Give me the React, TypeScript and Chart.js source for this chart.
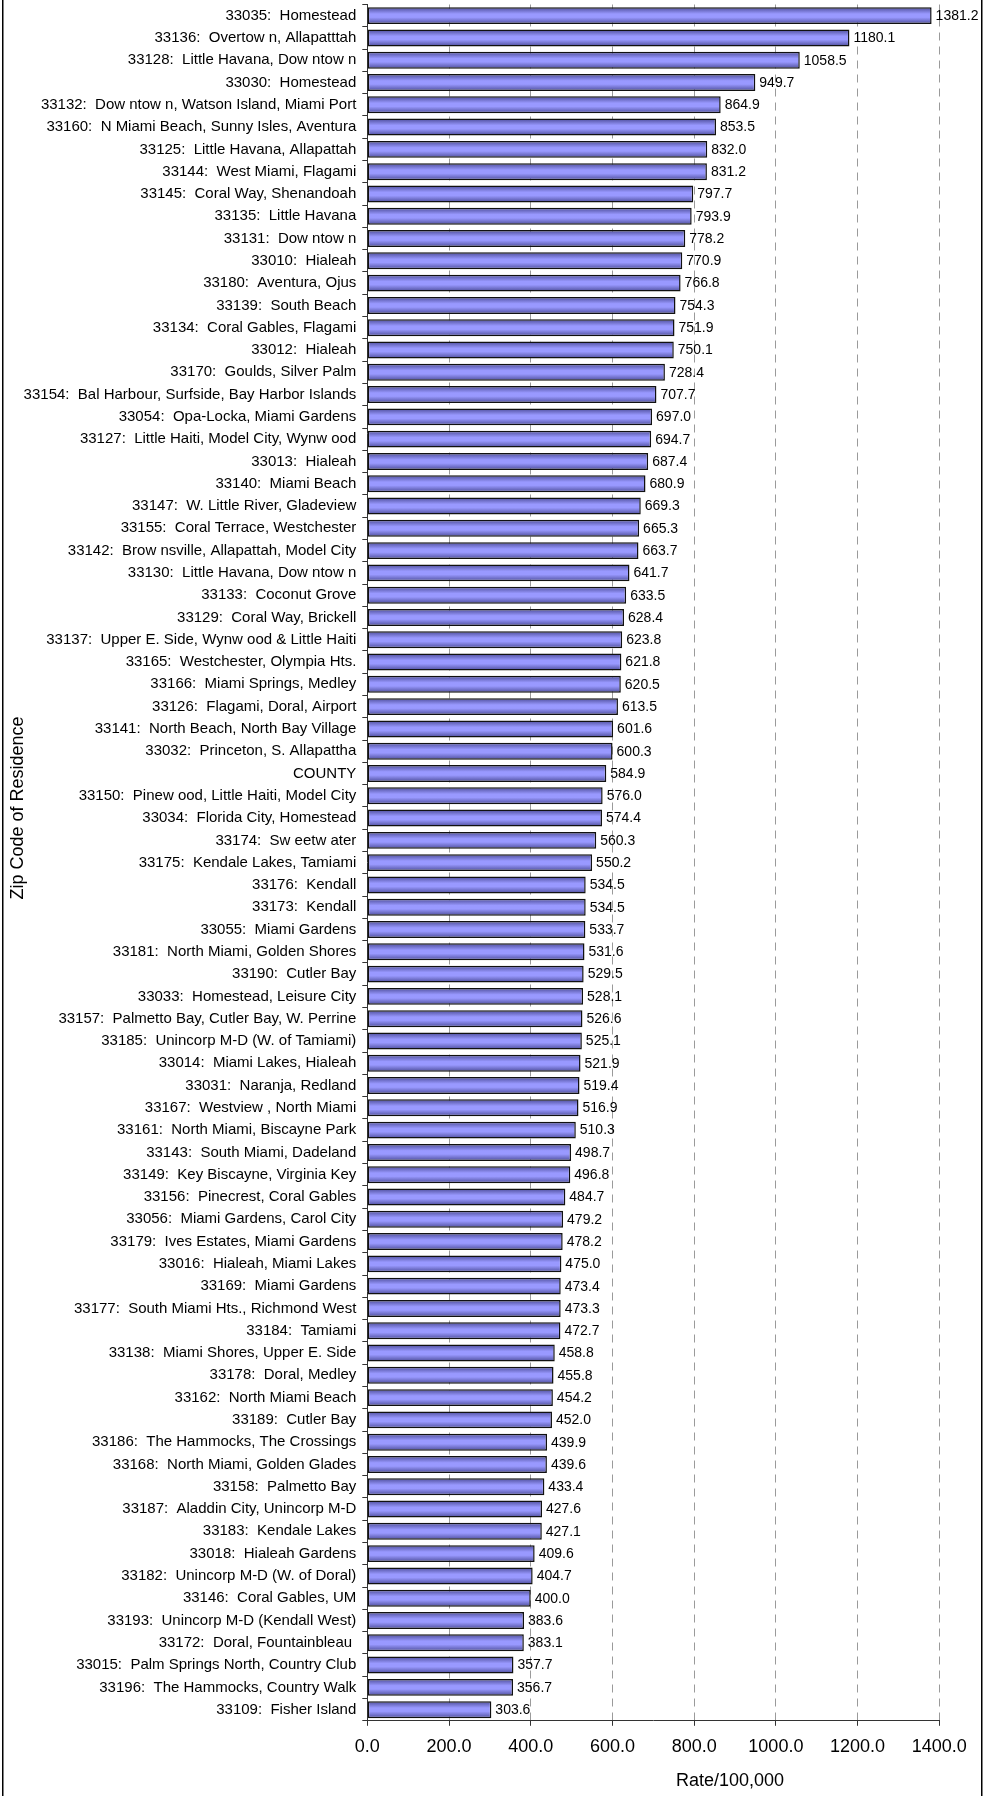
import React, { useEffect, useRef } from 'react';
import { Chart, registerables } from 'chart.js';

Chart.register(...registerables);

const zipLabels: string[] = [
  '33035:  Homestead',
  '33136:  Overtow n, Allapatttah',
  '33128:  Little Havana, Dow ntow n',
  '33030:  Homestead',
  '33132:  Dow ntow n, Watson Island, Miami Port',
  '33160:  N Miami Beach, Sunny Isles, Aventura',
  '33125:  Little Havana, Allapattah',
  '33144:  West Miami, Flagami',
  '33145:  Coral Way, Shenandoah',
  '33135:  Little Havana',
  '33131:  Dow ntow n',
  '33010:  Hialeah',
  '33180:  Aventura, Ojus',
  '33139:  South Beach',
  '33134:  Coral Gables, Flagami',
  '33012:  Hialeah',
  '33170:  Goulds, Silver Palm',
  '33154:  Bal Harbour, Surfside, Bay Harbor Islands',
  '33054:  Opa-Locka, Miami Gardens',
  '33127:  Little Haiti, Model City, Wynw ood',
  '33013:  Hialeah',
  '33140:  Miami Beach',
  '33147:  W. Little River, Gladeview',
  '33155:  Coral Terrace, Westchester',
  '33142:  Brow nsville, Allapattah, Model City',
  '33130:  Little Havana, Dow ntow n',
  '33133:  Coconut Grove',
  '33129:  Coral Way, Brickell',
  '33137:  Upper E. Side, Wynw ood & Little Haiti',
  '33165:  Westchester, Olympia Hts.',
  '33166:  Miami Springs, Medley',
  '33126:  Flagami, Doral, Airport',
  '33141:  North Beach, North Bay Village',
  '33032:  Princeton, S. Allapattha',
  'COUNTY',
  '33150:  Pinew ood, Little Haiti, Model City',
  '33034:  Florida City, Homestead',
  '33174:  Sw eetw ater',
  '33175:  Kendale Lakes, Tamiami',
  '33176:  Kendall',
  '33173:  Kendall',
  '33055:  Miami Gardens',
  '33181:  North Miami, Golden Shores',
  '33190:  Cutler Bay',
  '33033:  Homestead, Leisure City',
  '33157:  Palmetto Bay, Cutler Bay, W. Perrine',
  '33185:  Unincorp M-D (W. of Tamiami)',
  '33014:  Miami Lakes, Hialeah',
  '33031:  Naranja, Redland',
  '33167:  Westview , North Miami',
  '33161:  North Miami, Biscayne Park',
  '33143:  South Miami, Dadeland',
  '33149:  Key Biscayne, Virginia Key',
  '33156:  Pinecrest, Coral Gables',
  '33056:  Miami Gardens, Carol City',
  '33179:  Ives Estates, Miami Gardens',
  '33016:  Hialeah, Miami Lakes',
  '33169:  Miami Gardens',
  '33177:  South Miami Hts., Richmond West',
  '33184:  Tamiami',
  '33138:  Miami Shores, Upper E. Side',
  '33178:  Doral, Medley',
  '33162:  North Miami Beach',
  '33189:  Cutler Bay',
  '33186:  The Hammocks, The Crossings',
  '33168:  North Miami, Golden Glades',
  '33158:  Palmetto Bay',
  '33187:  Aladdin City, Unincorp M-D',
  '33183:  Kendale Lakes',
  '33018:  Hialeah Gardens',
  '33182:  Unincorp M-D (W. of Doral)',
  '33146:  Coral Gables, UM',
  '33193:  Unincorp M-D (Kendall West)',
  '33172:  Doral, Fountainbleau ',
  '33015:  Palm Springs North, Country Club',
  '33196:  The Hammocks, Country Walk',
  '33109:  Fisher Island',
];

const rates: number[] = [
  1381.2, 1180.1, 1058.5, 949.7, 864.9, 853.5, 832.0, 831.2, 797.7, 793.9,
  778.2, 770.9, 766.8, 754.3, 751.9, 750.1, 728.4, 707.7, 697.0, 694.7,
  687.4, 680.9, 669.3, 665.3, 663.7, 641.7, 633.5, 628.4, 623.8, 621.8,
  620.5, 613.5, 601.6, 600.3, 584.9, 576.0, 574.4, 560.3, 550.2, 534.5,
  534.5, 533.7, 531.6, 529.5, 528.1, 526.6, 525.1, 521.9, 519.4, 516.9,
  510.3, 498.7, 496.8, 484.7, 479.2, 478.2, 475.0, 473.4, 473.3, 472.7,
  458.8, 455.8, 454.2, 452.0, 439.9, 439.6, 433.4, 427.6, 427.1, 409.6,
  404.7, 400.0, 383.6, 383.1, 357.7, 356.7, 303.6,
];

const rateAxisMin = 0;
const rateAxisMax = 1400;
const rateAxisStep = 200;

const xAxisTitle = 'Rate/100,000';
const yAxisTitle = 'Zip Code of Residence';

const W = 984;
const H = 1796;
const FONT = '"Liberation Sans", Arial, Helvetica, sans-serif';
const BAR_PCT = 0.76;

const valueLabelPlugin = {
  id: 'valueLabels',
  afterDatasetsDraw(chart: any) {
    const meta = chart.getDatasetMeta(0);
    const ctx = chart.ctx as CanvasRenderingContext2D;
    ctx.save();
    ctx.font = `14px ${FONT}`;
    ctx.fillStyle = '#000';
    ctx.textAlign = 'left';
    ctx.textBaseline = 'middle';
    meta.data.forEach((el: any, i: number) => {
      ctx.fillText(rates[i].toFixed(1), el.x + 4, el.y + 0.5);
    });
    ctx.restore();
  },
};

const frameTitlePlugin = {
  id: 'frameTitles',
  afterDraw(chart: any) {
    const ctx = chart.ctx as CanvasRenderingContext2D;
    ctx.save();
    ctx.fillStyle = '#000';
    ctx.fillRect(2, 0, 1.5, H);
    ctx.fillRect(981, 0, 1.5, H);
    ctx.font = `18px ${FONT}`;
    ctx.textAlign = 'center';
    ctx.textBaseline = 'middle';
    ctx.fillText(xAxisTitle, 730, 1781);
    ctx.translate(18, 808);
    ctx.rotate(-Math.PI / 2);
    ctx.fillText(yAxisTitle, 0, 0);
    ctx.restore();
  },
};

export default function App() {
  const ref = useRef<HTMLCanvasElement | null>(null);

  useEffect(() => {
    if (!ref.current) return;
    Chart.defaults.font.family = FONT;

    const barFill = (c: any) => {
      const chart = c.chart;
      const ys = chart.scales?.y;
      const area = chart.chartArea;
      if (!ys || !area || c.dataIndex === undefined) return '#9999ff';
      const center = ys.getPixelForValue(c.dataIndex);
      const half = ((area.bottom - area.top) / zipLabels.length) * BAR_PCT / 2;
      const g = chart.ctx.createLinearGradient(0, center - half, 0, center + half);
      g.addColorStop(0, '#4c4c99');
      g.addColorStop(0.4, '#9999ff');
      g.addColorStop(0.6, '#9999ff');
      g.addColorStop(1, '#4c4c99');
      return g;
    };

    const chart = new Chart(ref.current, {
      type: 'bar',
      data: {
        labels: zipLabels,
        datasets: [
          {
            data: rates,
            backgroundColor: barFill as any,
            borderColor: '#111',
            borderWidth: 1.5,
            borderSkipped: false,
            barPercentage: BAR_PCT,
            categoryPercentage: 1,
          },
        ],
      },
      options: {
        indexAxis: 'y',
        responsive: false,
        animation: false,
        layout: { padding: { left: 0, top: 4.5, right: 44.7, bottom: 0 } },
        plugins: {
          legend: { display: false },
          tooltip: { enabled: false },
        },
        scales: {
          x: {
            type: 'linear',
            position: 'bottom',
            min: rateAxisMin,
            max: rateAxisMax,
            ticks: {
              stepSize: rateAxisStep,
              callback: (v: any) => Number(v).toFixed(1),
              font: { size: 18, family: FONT },
              color: '#000',
              padding: 10,
              maxRotation: 0,
              autoSkip: false,
            },
            grid: {
              color: (c: any) => (c.tick && c.tick.value === 0 ? 'rgba(0,0,0,0)' : '#9a9a9a'),
              lineWidth: 1,
              drawTicks: true,
              tickLength: 5,
              tickColor: '#333',
            },
            border: { display: true, color: '#333', width: 1, dash: [8, 6] },
            afterFit: (s: any) => {
              s.height = 75.2;
              s.paddingLeft = 0;
              s.paddingRight = 0;
            },
          },
          y: {
            type: 'category',
            offset: true,
            ticks: {
              font: { size: 15, family: FONT },
              color: '#000',
              padding: 6,
              autoSkip: false,
            },
            grid: {
              offset: true,
              drawOnChartArea: false,
              drawTicks: true,
              tickLength: 5,
              color: '#333',
              tickColor: '#333',
            },
            border: { display: true, color: '#333', width: 1 },
            afterFit: (s: any) => {
              s.width = 367.3;
              s.paddingTop = 0;
              s.paddingBottom = 0;
            },
          },
        },
      },
      plugins: [valueLabelPlugin, frameTitlePlugin],
    });

    return () => chart.destroy();
  }, []);

  return (
    <div style={{ position: 'absolute', left: 0, top: 0, width: W, height: H, background: '#fff' }}>
      <canvas ref={ref} width={W} height={H} style={{ display: 'block', width: W, height: H }} />
    </div>
  );
}
